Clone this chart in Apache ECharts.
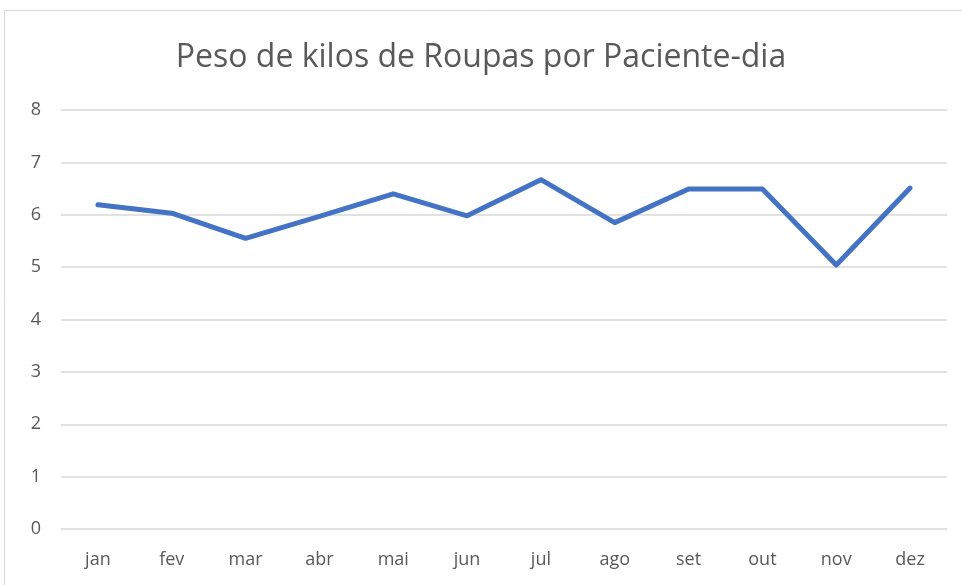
<!DOCTYPE html>
<html><head><meta charset="utf-8">
<script src="https://cdn.jsdelivr.net/npm/echarts@6/dist/echarts.min.js"></script>
<style>html,body{margin:0;padding:0;background:#fff}#c{width:962px;height:585px}</style>
</head><body><div id="c"></div>
<script>
const categories = ['jan','fev','mar','abr','mai','jun','jul','ago','set','out','nov','dez'];
const values = [6.19, 6.03, 5.55, 5.97, 6.40, 5.98, 6.67, 5.85, 6.49, 6.49, 5.04, 6.51];
const titleText = 'Peso de kilos de Roupas por Paciente-dia';

const chart = echarts.init(document.getElementById('c'));
chart.setOption({
  animation: false,
  graphic: [{
    type: 'rect', shape: { x: 4.5, y: 10.5, width: 970, height: 600 },
    style: { fill: 'none', stroke: '#d9d9d9', lineWidth: 1 }, silent: true
  }],
  title: {
    text: titleText, left: 'center', top: 37,
    textStyle: { fontFamily: 'Open Sans', fontWeight: 'normal', fontSize: 32, color: '#595959' }
  },
  grid: { left: 61, right: 15, top: 110, bottom: 56 },
  xAxis: {
    type: 'category', data: categories, boundaryGap: true,
    axisLine: { show: false }, axisTick: { show: false },
    axisLabel: { color: '#595959', fontSize: 18, fontFamily: 'Open Sans', margin: 22 }
  },
  yAxis: {
    type: 'value', min: 0, max: 8, interval: 1,
    axisLine: { show: false }, axisTick: { show: false },
    axisLabel: { color: '#595959', fontSize: 18, fontFamily: 'Open Sans', margin: 20 },
    splitLine: { lineStyle: { color: '#d9d9d9', width: 1.5 } }
  },
  series: [{
    type: 'line', data: values, symbol: 'none',
    lineStyle: { color: '#4472C4', width: 5, cap: 'round', join: 'round' }
  }]
});
</script></body></html>
